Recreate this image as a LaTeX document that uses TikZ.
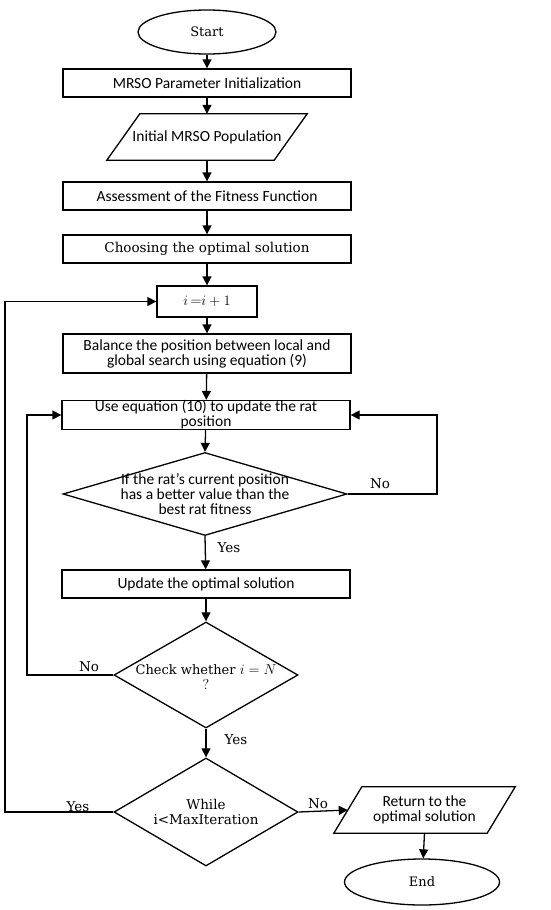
\documentclass[tikz,border=0pt]{standalone}
\usepackage{fontspec}
\newfontfamily\sansf{Carlito}
\newfontfamily\seriff{DejaVu Serif}
\usetikzlibrary{arrows.meta,shapes.geometric}
\tikzset{
  ln/.style={line width=1.3pt},
  arr/.style={line width=1.3pt,-{Triangle[length=9pt,width=9pt]}},
  sfont/.style={font=\sansf\fontsize{15.5}{15}\selectfont},
  rfont/.style={font=\seriff\fontsize{13.5}{15}\selectfont},
  box/.style={draw,ln,minimum width=288pt,minimum height=28pt,inner sep=0pt,align=center,sfont},
  oval/.style={draw,ln,ellipse,inner sep=0pt,font=\seriff\fontsize{13}{15}\selectfont},
  dia/.style={draw,ln,diamond,inner sep=0pt},
  lbl/.style={rfont,inner sep=0pt},
}
\begin{document}
\begin{tikzpicture}[x=1pt,y=-1pt]
\useasboundingbox[fill=white] (0,0) rectangle (550,910);
% nodes
\node[oval,minimum width=138pt,minimum height=44pt] (start) at (207,32) {Start};
\node[box] (b1) at (207,83) {MRSO Parameter Initialization};
\node[inner sep=0pt,minimum width=200pt,minimum height=46pt,sfont] (p1) at (207,137) {Initial MRSO Population};
\draw[ln] (p1.south west) -- ([xshift=33pt]p1.north west) -- (p1.north east) -- ([xshift=-33pt]p1.south east) -- cycle;
\node[box] (b2) at (207,196) {Assessment of the Fitness Function};
\node[box,rfont] (b3) at (207,249) {Choosing the optimal solution};
\node[box,font=\fontsize{15}{15}\selectfont,minimum width=100pt,minimum height=31pt] (bi) at (207,301.5) {$i\mskip3mu{=}i + 1$};
\node[box,minimum height=39pt] (b4) at (207,353.5) {Balance the position between local and\\global search using equation (9)};
\node[box] (b5) at (206,415) {Use equation (10) to update the rat\\position};
\node[dia,minimum width=284pt,minimum height=83pt] (d1) at (205,494) {};
\node[sfont,align=center,inner sep=0pt] (d1t) at (d1) {If the rat’s current position\\has a better value than the\\best rat fitness};
\node[box] (b6) at (206,584) {Update the optimal solution};
\node[dia,minimum width=184pt,minimum height=106pt] (d2) at (206,675) {};
\node[font=\seriff\fontsize{13}{15}\selectfont,align=center,inner sep=0pt] (d2t) at ([yshift=-2pt]d2.center) {Check whether {\fontsize{14.5}{15}\selectfont$i = N$}\\{\fontsize{14.5}{15}\selectfont$?$}};
\node[dia,minimum width=184pt,minimum height=108pt] (d3) at (206,812) {};
\node[rfont,align=center,inner sep=0pt] (d3t) at (d3) {While\\i<MaxIteration};
\node[inner sep=0pt,minimum width=181pt,minimum height=46pt,sfont,align=center] (p2) at (424.5,810) {Return to the\\optimal solution};
\draw[ln] (p2.south west) -- ([xshift=28pt]p2.north west) -- (p2.north east) -- ([xshift=-28pt]p2.south east) -- cycle;
\coordinate (p2in) at ([xshift=14pt]p2.west);
\node[oval,minimum width=155pt,minimum height=46pt] (end) at (422,882) {End};
% labels
\node[lbl] (l1) at (380,484) {No};
\node[lbl] (l2) at (229,548) {Yes};
\node[lbl] (l3) at (89,667) {No};
\node[lbl] (l4) at (236,740) {Yes};
\node[lbl] (l5) at (78,807) {Yes};
\node[lbl] (l6) at (318,804) {No};
% main arrows
\draw[arr] (start) -- (b1);
\draw[arr] (b1) -- (p1.north);
\draw[arr] (p1.south) -- (b2);
\draw[arr] (b2) -- (b3);
\draw[arr] (b3) -- (bi);
\draw[arr] (bi) -- (b4);
\draw[arr] (b4) -- (b5);
\draw[arr] (b5) -- (d1.north);
\draw[arr] (d1.south) -- (b6);
\draw[arr] (b6) -- (d2.north);
\draw[arr] (d2.south) -- (d3.north);
\draw[arr] (d3.east) -- (p2in);
\draw[arr] (p2.south) -- (end);
% loops
\coordinate (c1) at (437,494);
\coordinate (c2) at (27,675);
\coordinate (c3) at (5,812);
\draw[arr] (d1.east) -- (c1) |- (b5.east);
\draw[arr] (d2.west) -- (c2) |- (b5.west);
\draw[arr] (d3.west) -- (c3) |- (bi.west);
\end{tikzpicture}
\end{document}
